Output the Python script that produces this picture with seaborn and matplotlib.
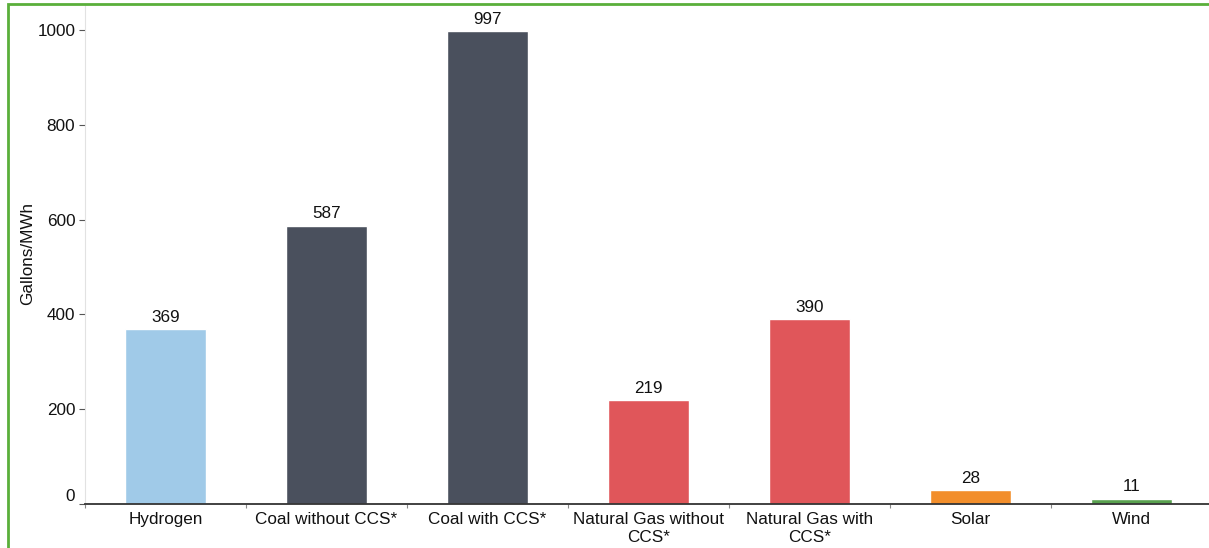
import matplotlib
matplotlib.use("Agg")
import matplotlib.pyplot as plt
from matplotlib.patches import Rectangle
from matplotlib.ticker import FixedLocator
import seaborn as sns
import pandas as pd

# Water use by generation source
sources = ["Hydrogen", "Coal without CCS*", "Coal with CCS*",
           "Natural Gas without CCS*", "Natural Gas with CCS*", "Solar", "Wind"]
gallons_per_mwh = [369, 587, 997, 219, 390, 28, 11]
tick_labels = ["Hydrogen", "Coal without CCS*", "Coal with CCS*",
               "Natural Gas without\nCCS*", "Natural Gas with\nCCS*", "Solar", "Wind"]
bar_colors = ["#a0cae8", "#4a505d", "#4a505d", "#e0565a", "#e0565a", "#f28e2b", "#59a14f"]
y_ticks = [0, 200, 400, 600, 800, 1000]

df = pd.DataFrame({"source": sources, "gallons": gallons_per_mwh})

sns.set_theme(style="white")
plt.rcParams["font.family"] = ["Liberation Sans", "DejaVu Sans"]

W, H = 1209, 548
FS = 12.3
fig = plt.figure(figsize=(W / 100, H / 100), dpi=100)
fig.patch.set_facecolor("white")

# axes in pixel terms: left 85, bottom at y=503.75, top at y=4, 161 px per category
left, bottom_px, top_px, cat_w = 85, 503.75, 4, 161
ax_w = cat_w * len(sources)
ax = fig.add_axes([left / W, (H - bottom_px) / H, ax_w / W, (bottom_px - top_px) / H])

sns.barplot(data=df, x="source", y="gallons", hue="source",
            palette=dict(zip(sources, bar_colors)), width=0.5,
            legend=False, ax=ax, saturation=1)

ax.set_xlim(-0.5, len(sources) - 0.5)
ax.set_ylim(0, (bottom_px - top_px) / (94.75 / 200))

for c in ax.containers:
    ax.bar_label(c, labels=[f"{v:.0f}" for v in c.datavalues], padding=3,
                 fontsize=FS, color="#111111")

# axis styling
for s in ["top", "right"]:
    ax.spines[s].set_visible(False)
ax.spines["left"].set_color("#e2e2e2")
ax.spines["left"].set_linewidth(0.8)
ax.spines["bottom"].set_color("#333333")
ax.spines["bottom"].set_linewidth(1.3)

ax.set_yticks(y_ticks)
ax.set_yticklabels([str(t) for t in y_ticks])
ax.tick_params(axis="y", which="major", length=4, width=0.8, color="#555555",
               labelsize=FS, labelcolor="#111111", pad=3, left=True)
ylabels = ax.get_yticklabels()
ylabels[0].set_verticalalignment("bottom")

ax.set_xticks(range(len(sources)))
ax.set_xticklabels(tick_labels, linespacing=1.25)
ax.tick_params(axis="x", which="major", length=0, labelsize=FS,
               labelcolor="#111111", pad=6)
ax.xaxis.set_minor_locator(FixedLocator([i - 0.5 for i in range(len(sources) + 1)]))
ax.tick_params(axis="x", which="minor", length=3, width=0.8, color="#888888",
               bottom=True)

ax.set_xlabel("")
ax.set_ylabel("Gallons/MWh", fontsize=FS, color="#111111")
ax.yaxis.set_label_coords(-(85 - 35) / ax_w, 0.5)

# green frame around the panel
fig.patches.append(Rectangle((7.5 / W, -0.1), 1.2, (H - 4) / H + 0.1,
                             transform=fig.transFigure, fill=False,
                             edgecolor="#5aaf3a", linewidth=2, zorder=10))

fig.savefig("out.png", dpi=100)
